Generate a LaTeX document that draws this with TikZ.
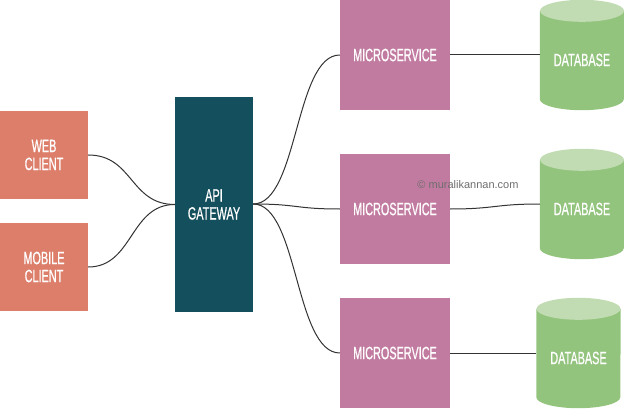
\documentclass[tikz,border=0pt]{standalone}
\usepackage{fontspec}
\setmainfont{Liberation Sans}[FakeStretch=0.61, FakeBold=0.6]
\newfontfamily\wmfont{Liberation Sans}
\definecolor{clientc}{HTML}{DD7E6B}
\definecolor{gatec}{HTML}{134F5C}
\definecolor{msc}{HTML}{C27BA0}
\definecolor{dbc}{HTML}{93C47D}
\definecolor{dbtopc}{HTML}{C1DCB3}
\definecolor{linec}{HTML}{333333}
\definecolor{wmc}{HTML}{6E6E6E}
\tikzset{
  boxtext/.style={text=white, font={\fontsize{17.8}{18}\selectfont}, align=center, inner sep=0pt},
  clientbox/.style={boxtext, fill=clientc, minimum width=88pt, minimum height=88pt},
  gatebox/.style={boxtext, fill=gatec, minimum width=78pt, minimum height=214pt},
  msbox/.style={boxtext, fill=msc, minimum width=110pt, minimum height=110pt},
  dbbox/.style={inner sep=0pt, minimum width=84pt, minimum height=110pt},
  dbtext/.style={boxtext},
  conn/.style={draw=linec, line width=1pt},
}
\newcommand{\dbdraw}[1]{%
  \fill[dbc] ([yshift=-11pt]#1.north west) -- ([yshift=11pt]#1.south west)
    arc[start angle=180, end angle=360, x radius=42pt, y radius=11pt]
    -- ([yshift=-11pt]#1.north east) -- cycle;
  \fill[dbtopc] ([yshift=-11pt]#1.north) ellipse[x radius=42pt, y radius=11pt];
}
\begin{document}
\begin{tikzpicture}[x=1pt, y=-1pt]
\useasboundingbox (0,0) rectangle (624,409);
% clients and gateway
\node[clientbox] (web) at (44,155) {WEB\\CLIENT};
\node[clientbox] (mob) at (44,267) {MOBILE\\CLIENT};
\node[gatebox] (gw) at (214,204.5) {API\\GATEWAY};
% microservices
\node[msbox] (ms1) at (395,55) {MICROSERVICE};
\node[msbox] (ms2) at (395,209) {MICROSERVICE};
\node[msbox] (ms3) at (395,353) {MICROSERVICE};
% databases
\node[dbbox] (db1) at (582,55) {};
\node[dbbox] (db2) at (582,204) {};
\node[dbbox] (db3) at (578.5,353) {};
\dbdraw{db1}
\dbdraw{db2}
\dbdraw{db3}
\node[dbtext] (db1t) at ([yshift=-5pt]db1.center) {DATABASE};
\node[dbtext] (db2t) at ([yshift=-5pt]db2.center) {DATABASE};
\node[dbtext] (db3t) at ([yshift=-5pt]db3.center) {DATABASE};
% connectors
\coordinate (gwin) at (gw.west);
\coordinate (gwout) at ([yshift=0.5pt]gw.east);
\draw[conn] (web.east) .. controls +(45,0) and +(-45,0) .. (gwin);
\draw[conn] (mob.east) .. controls +(45,0) and +(-45,0) .. (gwin);
\draw[conn] (gwout) .. controls +(45,0) and +(-45,0) .. (ms1.west);
\draw[conn] (gwout) .. controls +(45,0) and +(-45,0) .. (ms2.west);
\draw[conn] (gwout) .. controls +(45,0) and +(-45,0) .. (ms3.west);
\draw[conn] (ms1.east) -- (ms1.east -| db1.west);
\draw[conn] (ms2.east) .. controls +(45,0) and +(-45,0) .. (db2.west);
\draw[conn] (ms3.east) -- (ms3.east -| db3.west);
% watermark
\node[text=wmc, font={\wmfont\fontsize{11}{12}\selectfont}, inner sep=0pt] (wm) at (468,185) {© muralikannan.com};
\end{tikzpicture}
\end{document}
